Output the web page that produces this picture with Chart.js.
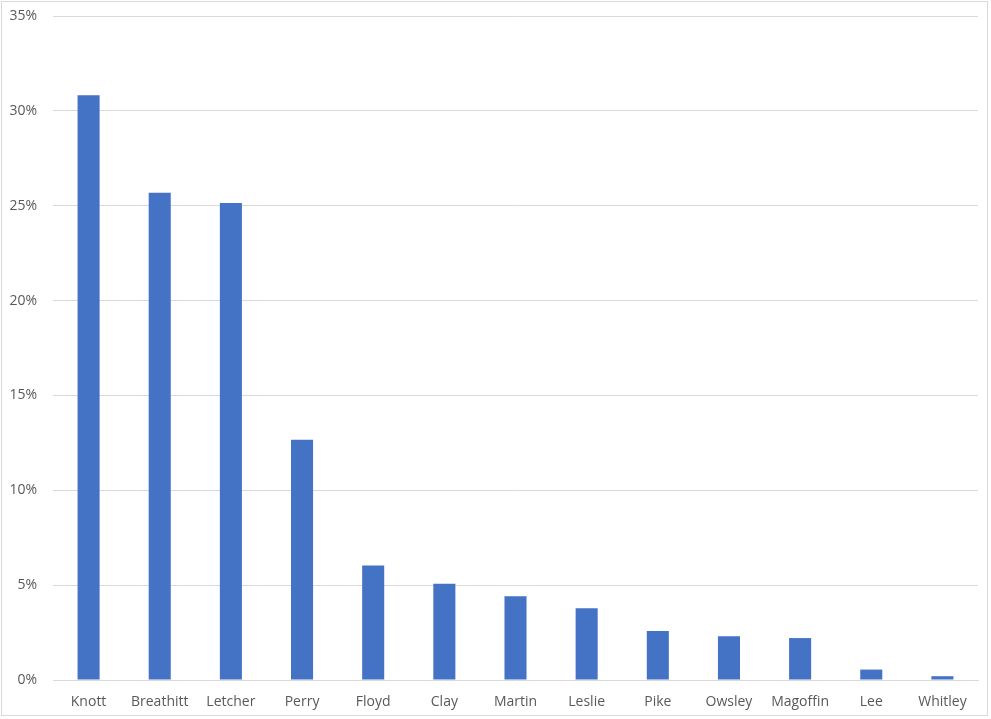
<!DOCTYPE html>
<html>
<head>
<meta charset="utf-8">
<script src="https://cdn.jsdelivr.net/npm/chart.js@4"></script>
<style>
  html, body { margin: 0; padding: 0; background: #fff; }
  #wrap {
    position: relative;
    width: 987px;
    height: 715px;
    margin: 1px;
    border: 1px solid #d9d9d9;
    box-sizing: border-box;
  }
</style>
</head>
<body>
<div id="wrap"><canvas id="chart"></canvas></div>
<script>
const counties = ["Knott", "Breathitt", "Letcher", "Perry", "Floyd", "Clay", "Martin", "Leslie", "Pike", "Owsley", "Magoffin", "Lee", "Whitley"];
const shares = [30.82, 25.68, 25.14, 12.66, 6.03, 5.07, 4.41, 3.78, 2.58, 2.31, 2.21, 0.55, 0.2];
const yTicks = [0, 5, 10, 15, 20, 25, 30, 35];

const textColor = "#595959";
const gridColor = "#d9d9d9";

new Chart(document.getElementById("chart"), {
  type: "bar",
  data: {
    labels: counties,
    datasets: [{
      data: shares,
      backgroundColor: "#4472c4",
      barPercentage: 1,
      categoryPercentage: 0.31,
    }],
  },
  options: {
    responsive: true,
    maintainAspectRatio: false,
    animation: false,
    layout: { padding: { top: 14, right: 9, bottom: 4, left: 6 } },
    plugins: { legend: { display: false }, tooltip: { enabled: false } },
    scales: {
      x: {
        grid: { display: false, drawTicks: false },
        border: { display: true, color: gridColor, width: 1 },
        ticks: {
          color: textColor,
          font: { family: "Open Sans", size: 14 },
          padding: 14,
          maxRotation: 0,
          autoSkip: false,
        },
        afterFit: (scale) => { scale.height = 31; },
      },
      y: {
        min: 0,
        max: 35,
        afterBuildTicks: (scale) => { scale.ticks = yTicks.map((v) => ({ value: v })); },
        grid: { color: gridColor, drawTicks: false },
        border: { display: false },
        ticks: {
          color: textColor,
          font: { family: "Open Sans", size: 14 },
          padding: 16,
          callback: (v) => v + "%",
        },
        afterFit: (scale) => {
          scale.width = 45;
          scale.paddingTop = 0;
          scale.paddingBottom = 0;
        },
      },
    },
  },
});
</script>
</body>
</html>
